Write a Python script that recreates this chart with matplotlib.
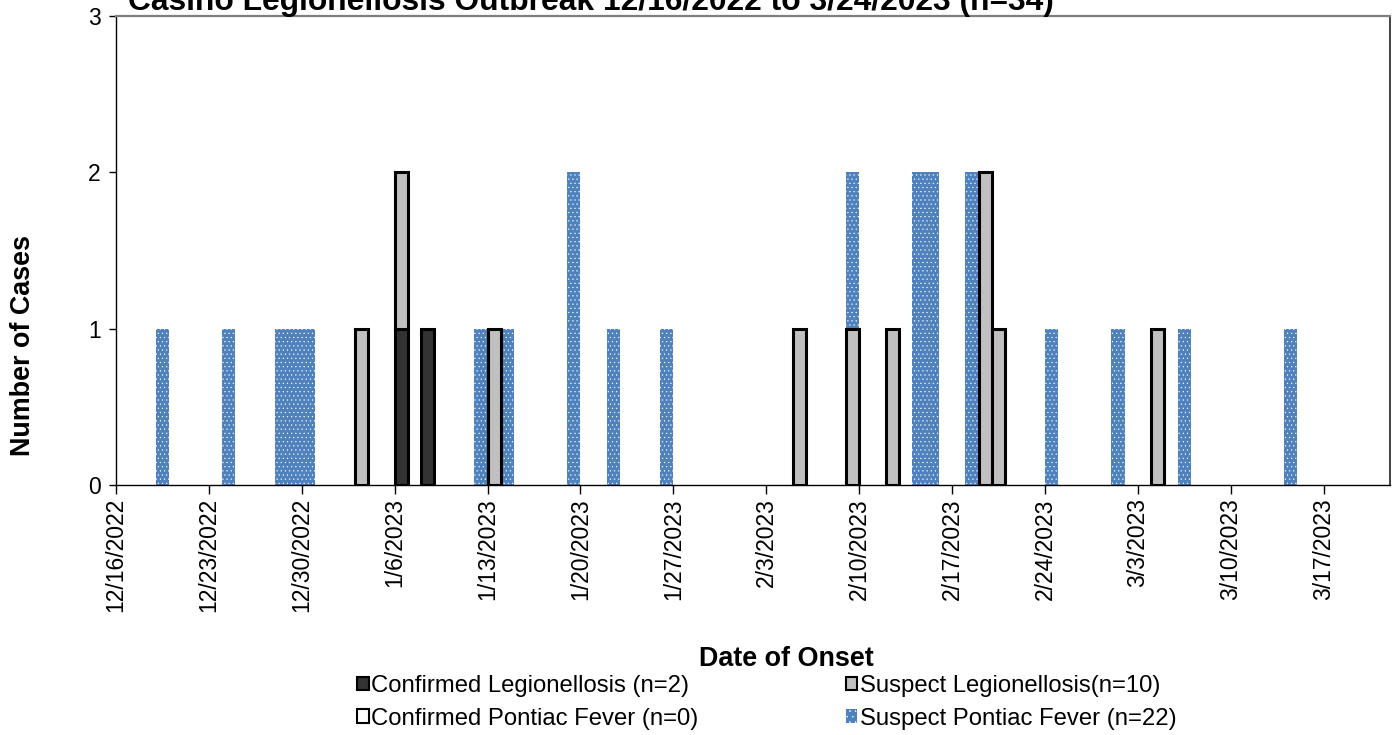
import matplotlib
matplotlib.use("Agg")
import matplotlib.pyplot as plt
import matplotlib.dates as mdates
from matplotlib.patches import Patch
import pandas as pd
import numpy as np

# case counts by date of onset
conf_leg_dates = ['2023-01-06', '2023-01-08']
conf_leg_counts = [1, 1]

susp_leg_dates = ['2023-01-03', '2023-01-06', '2023-01-13', '2023-02-05', '2023-02-09',
                  '2023-02-12', '2023-02-19', '2023-02-20', '2023-03-04']
susp_leg_counts = [1, 1, 1, 1, 1, 1, 2, 1, 1]

conf_pont_dates = []
conf_pont_counts = []

susp_pont_dates = ['2022-12-19', '2022-12-24', '2022-12-28', '2022-12-29', '2022-12-30',
                   '2023-01-12', '2023-01-14', '2023-01-19', '2023-01-22', '2023-01-26',
                   '2023-02-09', '2023-02-14', '2023-02-15', '2023-02-18', '2023-02-24',
                   '2023-03-01', '2023-03-06', '2023-03-14']
susp_pont_counts = [1, 1, 1, 1, 1, 1, 1, 2, 1, 1, 1, 2, 2, 2, 1, 1, 1, 1]

start, end = '2022-12-16', '2023-03-22'
tick_dates = pd.date_range('2022-12-16', '2023-03-17', freq='7D')

title = "Casino Legionellosis Outbreak 12/16/2022 to 3/24/2023 (n=34)"
labels = ["Confirmed Legionellosis (n=2)", "Suspect Legionellosis(n=10)",
          "Confirmed Pontiac Fever (n=0)", "Suspect Pontiac Fever (n=22)"]

days = pd.date_range(start, end, freq='D')


def daily(dates, counts):
    s = pd.Series(counts, index=pd.to_datetime(dates), dtype=float)
    return s.reindex(days, fill_value=0).values


cl = daily(conf_leg_dates, conf_leg_counts)
sl = daily(susp_leg_dates, susp_leg_counts)
cp = daily(conf_pont_dates, conf_pont_counts)
sp = daily(susp_pont_dates, susp_pont_counts)
x = mdates.date2num(days)

blue = '#4F81BD'
plt.rcParams['font.family'] = ['Liberation Sans', 'DejaVu Sans']
plt.rcParams['hatch.linewidth'] = 0.35

fig = plt.figure(figsize=(13.94, 7.35), dpi=100)
ax = fig.add_axes([116 / 1394, 1 - 485 / 735, 1274 / 1394, 469 / 735])

b1 = cl
b2 = cl + sl
b3 = b2 + cp
m = sp > 0
ax.bar(x[m], sp[m], bottom=b3[m], width=1, align='edge', color=blue,
       edgecolor='white', linewidth=0, hatch='....', zorder=2)
m = cl > 0
ax.bar(x[m], cl[m], width=1, align='edge', color='#333333',
       edgecolor='black', linewidth=2.2, zorder=3)
m = sl > 0
ax.bar(x[m], sl[m], bottom=b1[m], width=1, align='edge', color='#C0C0C0',
       edgecolor='black', linewidth=2.2, zorder=3)
m = cp > 0
if m.any():
    ax.bar(x[m], cp[m], bottom=b2[m], width=1, align='edge', color='white',
           edgecolor='black', linewidth=2.2, zorder=3)

ax.set_xlim(mdates.date2num(pd.Timestamp(start)), mdates.date2num(pd.Timestamp(end)))
ax.set_ylim(0, 3)
ax.set_yticks([0, 1, 2, 3])
ax.set_xticks(mdates.date2num(tick_dates))
ax.set_xticklabels([f"{d.month}/{d.day}/{d.year}" for d in tick_dates], rotation=90)
ax.tick_params(axis='y', direction='out', length=5, width=1, pad=6, labelsize=16.5)
ax.tick_params(axis='x', direction='out', length=6.5, width=1, pad=3, labelsize=16.5)

for s in ['left', 'bottom']:
    ax.spines[s].set_color('black')
    ax.spines[s].set_linewidth(1)
ax.spines['top'].set_color('#7f7f7f')
ax.spines['top'].set_linewidth(1.6)
ax.spines['right'].set_color('#222222')
ax.spines['right'].set_linewidth(1.2)

ax.set_xlabel("Date of Onset", fontsize=19.4, fontweight='bold')
ax.xaxis.set_label_coords(0.526, -0.3432)
ax.set_ylabel("Number of Cases", fontsize=19.4, fontweight='bold')
ax.yaxis.set_label_coords(-0.0628, 0.2985)

fig.text(591 / 1394, 1 - 10 / 735, title, ha='center', va='baseline',
         fontsize=22.9, fontweight='bold')

handles = [
    Patch(facecolor='#333333', edgecolor='black', linewidth=1.5),
    Patch(facecolor='white', edgecolor='black', linewidth=1.5),
    Patch(facecolor='#C0C0C0', edgecolor='black', linewidth=1.5),
    Patch(facecolor=blue, edgecolor='white', linewidth=0, hatch='...'),
]
leg_labels = [labels[0], labels[2], labels[1], labels[3]]
fig.legend(handles, leg_labels, ncol=2, loc='upper left',
           bbox_to_anchor=(357 / 1394, 1 - 675 / 735), frameon=False,
           fontsize=17.2, handlelength=0.5, handleheight=0.5,
           handletextpad=0.1, columnspacing=6.15, labelspacing=0.45,
           borderpad=0, borderaxespad=0)

fig.savefig('out.png', dpi=100)
